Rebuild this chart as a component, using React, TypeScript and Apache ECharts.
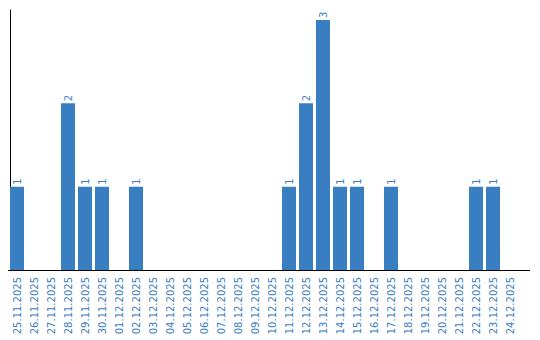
import React, { useEffect, useRef } from "react";
import * as echarts from "echarts";

const dates = [
  "25.11.2025", "26.11.2025", "27.11.2025", "28.11.2025", "29.11.2025", "30.11.2025",
  "01.12.2025", "02.12.2025", "03.12.2025", "04.12.2025", "05.12.2025", "06.12.2025",
  "07.12.2025", "08.12.2025", "09.12.2025", "10.12.2025", "11.12.2025", "12.12.2025",
  "13.12.2025", "14.12.2025", "15.12.2025", "16.12.2025", "17.12.2025", "18.12.2025",
  "19.12.2025", "20.12.2025", "21.12.2025", "22.12.2025", "23.12.2025", "24.12.2025",
];
const counts = [
  1, 0, 0, 2, 1, 1,
  0, 1, 0, 0, 0, 0,
  0, 0, 0, 0, 1, 2,
  3, 1, 1, 0, 1, 0,
  0, 0, 0, 1, 1, 0,
];

const BLUE = "#3a7ec2";
const FONT = "DejaVu Sans";

export default function App() {
  const ref = useRef<HTMLDivElement>(null);
  useEffect(() => {
    if (!ref.current) return;
    const chart = echarts.init(ref.current, undefined, { renderer: "svg" });
    chart.setOption({
      animation: false,
      grid: { left: 8.5, top: 10, width: 510, height: 260 },
      xAxis: {
        type: "category",
        data: dates,
        axisLine: { show: true, lineStyle: { color: "#000", width: 1 } },
        axisTick: { show: false },
        axisLabel: {
          rotate: 90,
          interval: 0,
          color: BLUE,
          fontFamily: FONT,
          fontSize: 10,
          margin: 7,
        },
        splitLine: { show: false },
      },
      yAxis: {
        type: "value",
        min: 0,
        max: 3.12,
        offset: -1.5,
        axisLine: { show: true, lineStyle: { color: "#000", width: 1 } },
        axisTick: { show: false },
        axisLabel: { show: false },
        splitLine: { show: false },
      },
      graphic: [
        {
          type: "line",
          shape: { x1: 518, y1: 270.5, x2: 530, y2: 270.5 },
          style: { stroke: "#000", lineWidth: 1 },
          silent: true,
        },
      ],
      series: [
        {
          type: "bar",
          data: counts.map((v) => (v === 0 ? null : v)),
          barWidth: 14,
          itemStyle: { color: BLUE },
          label: {
            show: true,
            position: "top",
            rotate: 90,
            align: "left",
            verticalAlign: "middle",
            distance: 2,
            color: BLUE,
            fontFamily: FONT,
            fontSize: 10,
          },
        },
      ],
    });
    return () => chart.dispose();
  }, []);
  return <div ref={ref} style={{ width: 540, height: 340, position: "absolute", left: 0, top: 0 }} />;
}
